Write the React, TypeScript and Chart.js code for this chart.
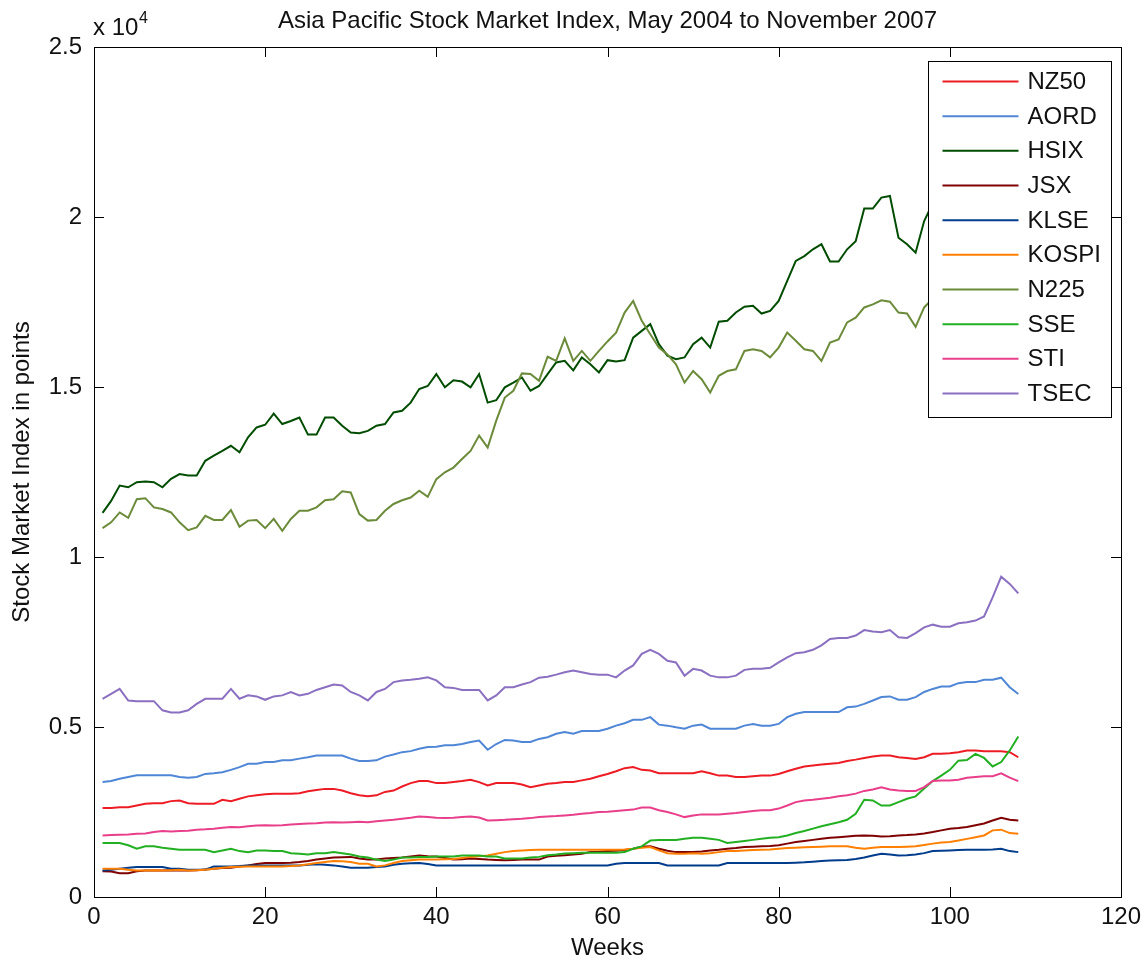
import React, { useEffect, useRef } from "react";
import { Chart, registerables } from "chart.js";

Chart.register(...registerables);

const weeks: number[] = Array.from({ length: 108 }, (_, i) => i + 1);

const seriesNames = ["NZ50", "AORD", "HSIX", "JSX", "KLSE", "KOSPI", "N225", "SSE", "STI", "TSEC"];
const seriesColors = ["#ED1C24", "#4F86D6", "#004C00", "#7F0000", "#003C8C", "#FF8000", "#6B8B3A", "#22B022", "#E93E8A", "#8B6FC0"];

const NZ50 = [2620, 2620, 2640, 2640, 2690, 2740, 2760, 2760, 2820, 2840, 2760, 2740, 2740, 2740, 2860, 2820, 2890, 2960, 2990, 3020, 3040, 3040, 3040, 3050, 3110, 3150, 3180, 3180, 3130, 3050, 2990, 2960, 2990, 3090, 3130, 3250, 3350, 3410, 3410, 3350, 3350, 3380, 3410, 3450, 3380, 3280, 3350, 3350, 3350, 3310, 3230, 3280, 3330, 3350, 3380, 3380, 3430, 3480, 3550, 3620, 3700, 3790, 3820, 3740, 3720, 3640, 3640, 3640, 3640, 3640, 3700, 3640, 3570, 3570, 3530, 3530, 3550, 3570, 3570, 3620, 3700, 3770, 3840, 3870, 3900, 3920, 3940, 4000, 4040, 4090, 4130, 4160, 4160, 4110, 4090, 4060, 4110, 4210, 4210, 4230, 4260, 4310, 4310, 4290, 4290, 4290, 4260, 4110];

const AORD = [3380, 3410, 3480, 3530, 3580, 3580, 3580, 3580, 3580, 3530, 3510, 3530, 3620, 3640, 3670, 3740, 3820, 3920, 3920, 3970, 3970, 4020, 4020, 4070, 4110, 4160, 4160, 4160, 4160, 4070, 4000, 4000, 4020, 4130, 4190, 4260, 4290, 4360, 4410, 4420, 4460, 4460, 4500, 4560, 4600, 4330, 4500, 4620, 4600, 4560, 4560, 4650, 4700, 4800, 4850, 4800, 4880, 4880, 4880, 4950, 5040, 5110, 5210, 5210, 5290, 5070, 5040, 4990, 4950, 5040, 5070, 4950, 4950, 4950, 4950, 5040, 5090, 5040, 5040, 5090, 5290, 5390, 5440, 5440, 5440, 5440, 5440, 5580, 5600, 5680, 5780, 5880, 5900, 5800, 5800, 5880, 6030, 6120, 6190, 6190, 6290, 6320, 6320, 6390, 6390, 6450, 6170, 5970];

const HSIX = [11300, 11650, 12100, 12050, 12200, 12220, 12200, 12050, 12300, 12440, 12400, 12400, 12830, 12980, 13120, 13270, 13080, 13520, 13810, 13890, 14220, 13910, 14000, 14100, 13600, 13600, 14100, 14100, 13860, 13660, 13640, 13710, 13860, 13910, 14250, 14300, 14540, 14940, 15030, 15380, 14990, 15200, 15160, 14990, 15380, 14540, 14610, 14990, 15130, 15280, 14890, 15030, 15380, 15720, 15770, 15490, 15870, 15670, 15430, 15790, 15750, 15790, 16450, 16650, 16850, 16260, 15920, 15820, 15870, 16260, 16450, 16160, 16920, 16950, 17190, 17360, 17390, 17160, 17240, 17530, 18120, 18710, 18850, 19050, 19200, 18690, 18690, 19050, 19290, 20250, 20250, 20570, 20620, 19390, 19200, 18950, 19880, 20400, 21200, 21900, 22500, 23100, 23900, 24300, 23600, 22600, 22000, 21700];

const JSX = [760, 750, 700, 700, 760, 780, 780, 780, 790, 780, 780, 790, 810, 830, 850, 860, 900, 930, 970, 1000, 1000, 1000, 1010, 1030, 1060, 1100, 1130, 1160, 1170, 1180, 1130, 1100, 1100, 1130, 1150, 1160, 1190, 1220, 1200, 1190, 1150, 1100, 1110, 1130, 1120, 1100, 1090, 1080, 1090, 1100, 1100, 1100, 1190, 1210, 1230, 1250, 1270, 1320, 1330, 1350, 1360, 1380, 1420, 1480, 1490, 1420, 1360, 1320, 1320, 1320, 1340, 1370, 1390, 1420, 1440, 1470, 1480, 1490, 1500, 1520, 1570, 1620, 1650, 1680, 1710, 1740, 1760, 1780, 1800, 1810, 1800, 1780, 1790, 1810, 1820, 1840, 1870, 1910, 1960, 2010, 2030, 2060, 2110, 2160, 2250, 2330, 2270, 2250];

const KLSE = [780, 800, 830, 860, 880, 880, 880, 880, 830, 830, 800, 800, 800, 900, 900, 900, 910, 930, 930, 930, 930, 930, 930, 930, 950, 960, 950, 930, 900, 860, 860, 860, 880, 900, 950, 980, 990, 1000, 970, 930, 930, 930, 930, 930, 930, 930, 930, 930, 930, 930, 930, 930, 930, 930, 930, 930, 930, 930, 930, 930, 980, 1000, 1000, 1000, 1000, 1000, 930, 930, 930, 930, 930, 930, 930, 1000, 1000, 1000, 1000, 1000, 1000, 1000, 1000, 1010, 1020, 1040, 1060, 1070, 1080, 1090, 1120, 1160, 1220, 1270, 1250, 1220, 1230, 1250, 1290, 1350, 1360, 1370, 1380, 1390, 1390, 1390, 1400, 1420, 1350, 1320];

const KOSPI = [830, 830, 830, 800, 780, 780, 790, 780, 790, 800, 780, 790, 800, 830, 860, 880, 890, 900, 900, 900, 900, 900, 910, 930, 960, 1000, 1030, 1060, 1050, 1030, 980, 980, 900, 930, 1000, 1060, 1080, 1100, 1100, 1100, 1110, 1120, 1150, 1180, 1200, 1220, 1270, 1320, 1350, 1370, 1380, 1390, 1390, 1390, 1390, 1390, 1390, 1390, 1390, 1390, 1390, 1400, 1420, 1450, 1470, 1370, 1290, 1270, 1270, 1290, 1270, 1290, 1320, 1350, 1350, 1370, 1380, 1390, 1400, 1420, 1440, 1450, 1460, 1470, 1480, 1490, 1490, 1490, 1450, 1420, 1450, 1470, 1470, 1470, 1480, 1490, 1530, 1570, 1600, 1620, 1660, 1710, 1760, 1810, 1960, 1980, 1880, 1860];

const N225 = [10850, 11020, 11310, 11150, 11700, 11730, 11460, 11410, 11310, 11020, 10790, 10870, 11210, 11090, 11090, 11380, 10890, 11070, 11090, 10850, 11120, 10770, 11120, 11360, 11360, 11460, 11670, 11700, 11930, 11900, 11260, 11070, 11090, 11360, 11560, 11670, 11750, 11950, 11770, 12290, 12490, 12630, 12880, 13120, 13570, 13220, 14010, 14690, 14890, 15400, 15380, 15180, 15890, 15770, 16430, 15770, 16060, 15770, 16060, 16340, 16600, 17190, 17530, 16950, 16550, 16160, 15960, 15670, 15130, 15470, 15230, 14840, 15330, 15470, 15520, 16060, 16110, 16060, 15870, 16160, 16600, 16360, 16110, 16060, 15770, 16310, 16400, 16900, 17040, 17340, 17430, 17550, 17510, 17190, 17160, 16770, 17340, 17600, 17900, 18000, 17700, 17900, 17600, 17200, 16700, 16300, 16000, 15500];

const SSE = [1590, 1590, 1590, 1520, 1420, 1490, 1490, 1450, 1420, 1390, 1390, 1390, 1390, 1320, 1370, 1420, 1350, 1320, 1370, 1370, 1350, 1350, 1290, 1270, 1250, 1290, 1290, 1320, 1290, 1250, 1190, 1160, 1100, 1060, 1100, 1160, 1160, 1180, 1180, 1190, 1190, 1190, 1220, 1220, 1220, 1190, 1190, 1130, 1130, 1130, 1160, 1180, 1230, 1250, 1280, 1290, 1300, 1300, 1300, 1300, 1300, 1320, 1420, 1490, 1660, 1680, 1680, 1680, 1710, 1740, 1740, 1710, 1680, 1590, 1620, 1650, 1680, 1710, 1740, 1760, 1810, 1880, 1940, 2010, 2080, 2140, 2200, 2270, 2450, 2860, 2840, 2690, 2690, 2790, 2890, 2960, 3190, 3410, 3570, 3740, 4010, 4030, 4210, 4090, 3840, 3970, 4310, 4720];

const STI = [1810, 1820, 1830, 1840, 1860, 1870, 1910, 1940, 1930, 1940, 1950, 1980, 1990, 2010, 2040, 2060, 2050, 2080, 2100, 2110, 2100, 2110, 2130, 2150, 2160, 2170, 2190, 2200, 2190, 2200, 2210, 2200, 2230, 2250, 2270, 2300, 2330, 2370, 2350, 2330, 2320, 2330, 2350, 2370, 2340, 2250, 2260, 2270, 2290, 2300, 2320, 2350, 2370, 2380, 2400, 2420, 2450, 2470, 2500, 2510, 2530, 2550, 2570, 2630, 2630, 2550, 2500, 2430, 2350, 2400, 2430, 2430, 2430, 2450, 2470, 2500, 2530, 2550, 2550, 2600, 2690, 2790, 2840, 2860, 2890, 2920, 2960, 2990, 3040, 3120, 3160, 3230, 3160, 3130, 3120, 3120, 3230, 3410, 3430, 3430, 3450, 3510, 3530, 3550, 3550, 3640, 3510, 3410];

const TSEC = [5830, 5975, 6120, 5780, 5760, 5760, 5760, 5490, 5430, 5430, 5490, 5680, 5830, 5830, 5830, 6120, 5830, 5930, 5900, 5800, 5900, 5930, 6030, 5930, 5975, 6090, 6170, 6250, 6220, 6030, 5930, 5780, 6030, 6120, 6320, 6370, 6390, 6420, 6460, 6370, 6170, 6150, 6090, 6090, 6090, 5780, 5930, 6170, 6170, 6250, 6320, 6450, 6480, 6540, 6610, 6660, 6610, 6560, 6540, 6540, 6460, 6660, 6810, 7150, 7270, 7150, 6950, 6900, 6510, 6710, 6660, 6510, 6460, 6460, 6510, 6680, 6710, 6710, 6740, 6900, 7050, 7170, 7200, 7270, 7400, 7590, 7620, 7620, 7690, 7850, 7810, 7790, 7850, 7640, 7620, 7760, 7930, 8010, 7950, 7950, 8050, 8080, 8130, 8250, 8810, 9420, 9210, 8930];

const seriesValues = [NZ50, AORD, HSIX, JSX, KLSE, KOSPI, N225, SSE, STI, TSEC];

const xTicks = [0, 20, 40, 60, 80, 100, 120];
const yTicks = [0, 5000, 10000, 15000, 20000, 25000];

const titleText = "Asia Pacific Stock Market Index, May 2004 to November 2007";
const xLabel = "Weeks";
const yLabel = "Stock Market Index in points";

const FONT = "'Liberation Sans', Arial, sans-serif";

const matlabPlugin = {
  id: "matlabFrame",
  afterDatasetsDraw(chart: any) {
    const { ctx, chartArea } = chart;
    const { left, right, top, bottom } = chartArea;
    const xs = chart.scales.x;
    const ys = chart.scales.y;
    ctx.save();
    ctx.strokeStyle = "#000";
    ctx.lineWidth = 1;
    ctx.strokeRect(Math.round(left) + 0.5, Math.round(top) + 0.5, Math.round(right - left), Math.round(bottom - top));
    const tl = 10;
    ctx.beginPath();
    xTicks.forEach((v) => {
      const p = Math.round(xs.getPixelForValue(v)) + 0.5;
      ctx.moveTo(p, bottom);
      ctx.lineTo(p, bottom - tl);
      ctx.moveTo(p, top);
      ctx.lineTo(p, top + tl);
    });
    yTicks.forEach((v) => {
      const p = Math.round(ys.getPixelForValue(v)) + 0.5;
      ctx.moveTo(left, p);
      ctx.lineTo(left + tl, p);
      ctx.moveTo(right, p);
      ctx.lineTo(right - tl, p);
    });
    ctx.stroke();

    // legend box
    const bw = 183;
    const bh = 356;
    const bx = Math.round(right - 10 - bw) + 0.5;
    const by = Math.round(top + 14) + 0.5;
    ctx.fillStyle = "#fff";
    ctx.fillRect(bx, by, bw, bh);
    ctx.strokeStyle = "#000";
    ctx.strokeRect(bx, by, bw, bh);
    ctx.font = `24px ${FONT}`;
    ctx.textBaseline = "middle";
    ctx.textAlign = "left";
    seriesNames.forEach((name, i) => {
      const y = by + 20 + i * 34.67;
      ctx.strokeStyle = seriesColors[i];
      ctx.lineWidth = 2;
      ctx.beginPath();
      ctx.moveTo(bx + 14, y);
      ctx.lineTo(bx + 90, y);
      ctx.stroke();
      ctx.fillStyle = "#111";
      ctx.fillText(name, bx + 99, y + 1);
    });

    // title
    ctx.fillStyle = "#111";
    ctx.textAlign = "center";
    ctx.textBaseline = "alphabetic";
    ctx.font = `24px ${FONT}`;
    ctx.fillText(titleText, (left + right) / 2, 27.5);

    // exponent label
    ctx.textAlign = "left";
    ctx.fillText("x 10", left - 1, 35);
    ctx.font = `16px ${FONT}`;
    ctx.fillText("4", left + 45, 23);
    ctx.restore();
  },
};

export default function App() {
  const ref = useRef<HTMLCanvasElement | null>(null);
  useEffect(() => {
    document.body.style.margin = "0";
    if (!ref.current) return;
    Chart.defaults.font.family = FONT;
    Chart.defaults.font.size = 24;
    Chart.defaults.color = "#111";
    const datasets = seriesNames.map((name, i) => ({
      label: name,
      data: weeks.map((w, j) => ({ x: w, y: seriesValues[i][j] })),
      borderColor: seriesColors[i],
      backgroundColor: seriesColors[i],
      borderWidth: 2,
      pointRadius: 0,
      tension: 0,
      fill: false,
      order: -i,
    }));
    const chart = new Chart(ref.current, {
      type: "line",
      data: { datasets },
      options: {
        responsive: false,
        animation: false,
        layout: { padding: { top: 47, right: 27, left: 0, bottom: 0 } },
        plugins: {
          legend: { display: false },
          title: { display: false },
          tooltip: { enabled: false },
        },
        scales: {
          x: {
            type: "linear",
            min: 0,
            max: 120,
            grid: { display: false, drawTicks: false },
            border: { display: false },
            ticks: { stepSize: 20, padding: 6, color: "#111", font: { size: 24 } },
            title: { display: true, text: xLabel, color: "#111", font: { size: 24 }, padding: { top: 0, bottom: 2 } },
            afterFit: (s: any) => {
              s.height = 68;
            },
          },
          y: {
            type: "linear",
            min: 0,
            max: 25000,
            grid: { display: false, drawTicks: false },
            border: { display: false },
            ticks: {
              stepSize: 5000,
              padding: 12,
              color: "#111",
              font: { size: 24 },
              callback: (v: any) => String(Number(v) / 10000),
            },
            title: { display: true, text: yLabel, color: "#111", font: { size: 24 }, padding: { top: 8, bottom: 0 } },
            afterFit: (s: any) => {
              s.width = 94;
            },
          },
        },
      },
      plugins: [matlabPlugin],
    });
    return () => chart.destroy();
  }, []);
  return (
    <div style={{ position: "absolute", left: 0, top: 0, width: 1148, height: 965, background: "#fff" }}>
      <canvas ref={ref} width={1148} height={965} />
    </div>
  );
}
